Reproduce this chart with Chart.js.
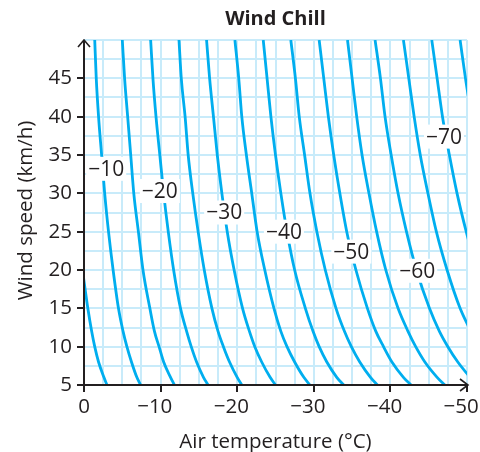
<!DOCTYPE html>
<html>
<head>
<meta charset="utf-8">
<title>Wind Chill</title>
<script src="https://cdn.jsdelivr.net/npm/chart.js@4/dist/chart.umd.min.js"></script>
<style>
  html, body { margin: 0; padding: 0; background: #fff; }
  #wrap { width: 480px; height: 452px; }
</style>
</head>
<body>
<div id="wrap"><canvas id="chart" width="480" height="452"></canvas></div>
<script>
// ── Data ────────────────────────────────────────────────────────────────────
// wind speed (km/h) at which each contour's air temperature was read
const windSpeeds = [5, 6, 8, 10, 12, 15, 20, 25, 30, 35, 40, 45, 50];

// air temperature (°C) of each wind-chill contour at those wind speeds
// null = contour is outside the plotted area there
const chillM5  = [-3.0, -2.6, -1.9, -1.4, -1.0, -0.5, 0.2, null, null, null, null, null, null];
const chillM10 = [-7.4, -6.9, -6.2, -5.6, -5.1, -4.5, -3.8, -3.2, -2.7, -2.3, -1.9, -1.6, -1.4];
const chillM15 = [-11.8, -11.3, -10.4, -9.8, -9.2, -8.6, -7.7, -7.1, -6.5, -6.1, -5.7, -5.3, -5.0];
const chillM20 = [-16.2, -15.6, -14.7, -14.0, -13.4, -12.6, -11.7, -11.0, -10.4, -9.9, -9.4, -9.0, -8.7];
const chillM25 = [-20.6, -20.0, -19.0, -18.2, -17.5, -16.7, -15.7, -14.9, -14.2, -13.6, -13.2, -12.7, -12.4];
const chillM30 = [-25.0, -24.3, -23.2, -22.3, -21.6, -20.7, -19.6, -18.7, -18.0, -17.4, -16.9, -16.4, -16.0];
const chillM35 = [-29.5, -28.7, -27.5, -26.5, -25.7, -24.8, -23.6, -22.6, -21.9, -21.2, -20.6, -20.2, -19.7];
const chillM40 = [-33.9, -33.0, -31.7, -30.7, -29.9, -28.9, -27.5, -26.5, -25.7, -25.0, -24.4, -23.9, -23.4];
const chillM45 = [-38.3, -37.4, -36.0, -34.9, -34.0, -32.9, -31.5, -30.4, -29.5, -28.8, -28.1, -27.6, -27.0];
const chillM50 = [-42.7, -41.7, -40.2, -39.1, -38.1, -37.0, -35.5, -34.3, -33.4, -32.6, -31.9, -31.3, -30.7];
const chillM55 = [-47.1, -46.1, -44.5, -43.3, -42.3, -41.0, -39.4, -38.2, -37.2, -36.3, -35.6, -35.0, -34.4];
const chillM60 = [null, -50.4, -48.8, -47.5, -46.4, -45.1, -43.4, -42.1, -41.0, -40.1, -39.3, -38.7, -38.0];
const chillM65 = [null, null, null, null, -50.5, -49.1, -47.4, -46.0, -44.9, -43.9, -43.1, -42.4, -41.7];
const chillM70 = [null, null, null, null, null, null, -51.3, -49.9, -48.7, -47.7, -46.8, -46.1, -45.4];
const chillM75 = [null, null, null, null, null, null, null, null, null, null, -50.6, -49.8, -49.1];

const contours = [chillM5, chillM10, chillM15, chillM20, chillM25, chillM30, chillM35,
                  chillM40, chillM45, chillM50, chillM55, chillM60, chillM65, chillM70, chillM75];

// contour labels and where they sit (temperature, wind speed)
const labelTexts = ['\u221210', '\u221220', '\u221230', '\u221240', '\u221250', '\u221260', '\u221270'];
const labelTemps = [-2.9, -9.9, -18.3, -26.1, -34.9, -43.5, -47.0];
const labelWinds = [33.2, 30.3, 27.5, 25.0, 22.4, 19.9, 37.4];

// ── Styles ──────────────────────────────────────────────────────────────────
const FONT      = '"Open Sans", "Noto Sans", sans-serif';
const INK       = '#231f20';
const LINE_BLUE = '#00aeef';
const GRID_BLUE = '#c8ebfa';

// ── Plugin: title, axis titles, axis arrows, contour labels ─────────────────
const decorPlugin = {
  id: 'decor',
  afterDatasetsDraw(chart) {
    const { ctx, chartArea: a, scales } = chart;
    ctx.save();

    // axis lines with arrow heads
    ctx.strokeStyle = INK;
    ctx.lineWidth = 2;
    ctx.lineCap = 'butt';
    ctx.beginPath();
    ctx.moveTo(a.left, a.bottom);
    ctx.lineTo(a.left, a.top);
    ctx.moveTo(a.left - 1, a.bottom);
    ctx.lineTo(a.right + 1, a.bottom);
    ctx.stroke();
    ctx.lineWidth = 1.6;
    ctx.lineJoin = 'miter';
    ctx.beginPath();
    ctx.moveTo(a.left - 6, a.top + 7);
    ctx.lineTo(a.left, a.top);
    ctx.lineTo(a.left + 6, a.top + 7);
    ctx.moveTo(a.right - 7, a.bottom - 6);
    ctx.lineTo(a.right + 1, a.bottom);
    ctx.lineTo(a.right - 7, a.bottom + 6);
    ctx.stroke();

    // contour labels on white boxes
    ctx.font = '21px ' + FONT;
    ctx.textAlign = 'center';
    ctx.textBaseline = 'middle';
    labelTexts.forEach((txt, i) => {
      const px = scales.x.getPixelForValue(labelTemps[i]);
      const py = scales.y.getPixelForValue(labelWinds[i]);
      const w = ctx.measureText(txt).width + 4;
      ctx.fillStyle = '#fff';
      ctx.fillRect(px - w / 2, py - 12, w, 24);
      ctx.fillStyle = INK;
      ctx.fillText(txt, px, py + 1);
    });

    // chart title
    const midX = (a.left + a.right) / 2;
    ctx.textBaseline = 'alphabetic';
    ctx.font = 'bold 20px ' + FONT;
    ctx.fillText('Wind Chill', midX, 25);

    // x axis title
    ctx.font = '20.5px ' + FONT;
    ctx.fillText('Air temperature (\u00b0C)', midX, 448);

    // y axis title
    ctx.translate(32, (a.top + a.bottom) / 2 - 2);
    ctx.rotate(-Math.PI / 2);
    ctx.fillText('Wind speed (km/h)', 0, 0);
    ctx.restore();
  }
};

// ── Chart ───────────────────────────────────────────────────────────────────
const datasets = contours.map(temps => ({
  data: windSpeeds
    .map((v, i) => ({ x: temps[i], y: v }))
    .filter(p => p.x !== null),
  borderColor: LINE_BLUE,
  borderWidth: 2.8,
  pointRadius: 0,
  showLine: true,
  fill: false,
  cubicInterpolationMode: 'monotone',
}));

new Chart(document.getElementById('chart'), {
  type: 'scatter',
  data: { datasets },
  options: {
    responsive: false,
    animation: false,
    events: [],
    layout: { padding: { left: 0, right: 13, top: 40, bottom: 0 } },
    plugins: {
      legend: { display: false },
      title: { display: false },
      tooltip: { enabled: false },
    },
    scales: {
      x: {
        type: 'linear',
        min: -50,
        max: 0,
        reverse: true,
        border: { display: false },
        grid: {
          color: GRID_BLUE,
          lineWidth: 2,
          tickLength: 7,
          tickWidth: 2,
          tickColor: c => (c.tick && c.tick.value % 10 === 0 ? INK : 'rgba(0,0,0,0)'),
        },
        ticks: {
          stepSize: 2.5,
          autoSkip: false,
          maxRotation: 0,
          padding: 3,
          color: INK,
          font: { family: FONT, size: 20.5 },
          // the digits sit centred under the tick, the minus hangs to the left
          callback: v => (v % 10 !== 0 ? '' : v === 0 ? '0' : '\u2212' + Math.abs(v) + '\u2007'),
        },
        afterFit: s => { s.height = 67; s.paddingLeft = 0; s.paddingRight = 0; },
      },
      y: {
        type: 'linear',
        min: 5,
        max: 50,
        border: { display: false },
        grid: {
          color: GRID_BLUE,
          lineWidth: 2,
          tickLength: 7,
          tickWidth: 2,
          tickColor: c => (c.tick && c.tick.value % 5 === 0 && c.tick.value < 50 ? INK : 'rgba(0,0,0,0)'),
        },
        ticks: {
          stepSize: 2.5,
          autoSkip: false,
          padding: 5,
          color: INK,
          font: { family: FONT, size: 20.5 },
          callback: v => (v % 5 === 0 && v < 50 ? String(v) : ''),
        },
        afterFit: s => { s.width = 84; s.paddingTop = 0; s.paddingBottom = 0; },
      },
    },
  },
  plugins: [decorPlugin],
});
</script>
</body>
</html>
